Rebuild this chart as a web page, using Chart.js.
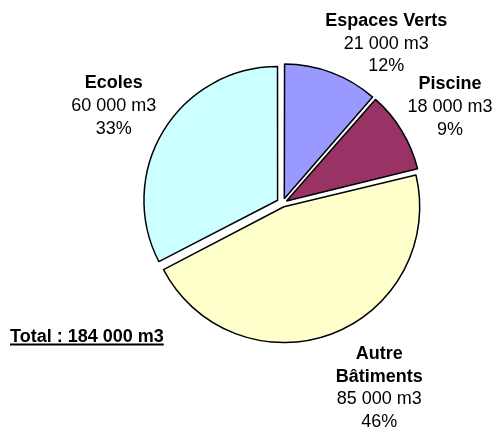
<!DOCTYPE html>
<html lang="fr">
<head>
    <meta charset="UTF-8">
    <title>Consommation d'eau</title>
    <script src="https://cdn.jsdelivr.net/npm/chart.js"></script>
    <style>
        html, body { margin: 0; padding: 0; background: #fff; }
        #wrap { position: relative; width: 494px; height: 430px; }
    </style>
</head>
<body>
    <div id="wrap">
        <canvas id="waterChart" width="494" height="430"></canvas>
    </div>
    <script>
        // data
        const categories = ['Espaces Verts', 'Piscine', 'Autre Bâtiments', 'Ecoles'];
        const volumes = [21000, 18000, 85000, 60000];
        const pctLabels = ['12%', '9%', '46%', '33%'];
        const colors = ['#9999FF', '#993366', '#FFFFCC', '#CCFFFF'];

        const FONT = '"Liberation Sans", Arial, sans-serif';
        const EXPLODE = 6.5; // px each slice is pulled out

        function fmt(n) {
            return String(n).replace(/\B(?=(\d{3})+(?!\d))/g, ' ');
        }

        // Chart.js scales the offset by slice size; undo that so every slice moves the same distance
        function sliceOffset(ctx) {
            const total = volumes.reduce((a, b) => a + b, 0);
            const circ = volumes[ctx.dataIndex] / total * Math.PI * 2;
            const fix = 1 - Math.sin(Math.min(Math.PI, circ));
            return EXPLODE * 4 / (1 + fix);
        }

        // labels outside the slices, placed along each slice's bisector
        const outsideLabels = {
            id: 'outsideLabels',
            afterDraw(chart, args, opts) {
                const ctx = chart.ctx;
                const meta = chart.getDatasetMeta(0);
                ctx.save();
                ctx.fillStyle = '#000';
                ctx.textAlign = 'center';
                ctx.textBaseline = 'middle';
                meta.data.forEach((arc, i) => {
                    const p = arc.getProps(['x', 'y', 'startAngle', 'endAngle', 'outerRadius'], true);
                    const mid = (p.startAngle + p.endAngle) / 2;
                    const d = p.outerRadius + opts.distance;
                    const nudge = opts.nudge[i];
                    const cx = p.x + Math.cos(mid) * d + nudge[0];
                    const cy = p.y + Math.sin(mid) * d + nudge[1];
                    const names = opts.wrap[i] || [categories[i]];
                    const lines = names.map(t => ({ t, bold: true }))
                        .concat([{ t: fmt(volumes[i]) + ' m3', bold: false }, { t: pctLabels[i], bold: false }]);
                    const lh = opts.lineHeight;
                    lines.forEach((l, k) => {
                        ctx.font = (l.bold ? 'bold ' : '') + opts.size + 'px ' + FONT;
                        ctx.fillText(l.t, cx, cy + (k - (lines.length - 1) / 2) * lh);
                    });
                });

                // total, underlined
                const total = volumes.reduce((a, b) => a + b, 0);
                const txt = 'Total : ' + fmt(total) + ' m3';
                ctx.font = 'bold ' + opts.size + 'px ' + FONT;
                ctx.textAlign = 'left';
                ctx.textBaseline = 'alphabetic';
                ctx.fillText(txt, 10, 342);
                const w = ctx.measureText(txt).width;
                ctx.fillRect(10, 343.5, w, 2);
                ctx.restore();
            }
        };

        new Chart(document.getElementById('waterChart'), {
            type: 'pie',
            data: {
                labels: categories,
                datasets: [{
                    data: volumes,
                    backgroundColor: colors,
                    borderColor: '#000',
                    borderWidth: 1.5,
                    offset: sliceOffset,
                    radius: 133
                }]
            },
            options: {
                responsive: false,
                animation: false,
                events: [],
                layout: { padding: { left: 71.2, right: 0, top: 0, bottom: 23.4 } },
                plugins: {
                    legend: { display: false },
                    tooltip: { enabled: false },
                    outsideLabels: {
                        distance: 60,
                        size: 18,
                        lineHeight: 22.7,
                        wrap: { 2: ['Autre', 'Bâtiments'] },
                        nudge: [[36, 21], [2.5, 4], [29, 4], [-4, 3]]
                    }
                }
            },
            plugins: [outsideLabels]
        });
    </script>
</body>
</html>
